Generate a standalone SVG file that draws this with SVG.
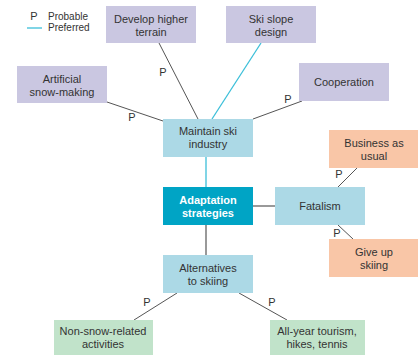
<svg xmlns="http://www.w3.org/2000/svg" width="418" height="355" viewBox="0 0 418 355">
<style>
text{font-family:"Liberation Sans",Arial,sans-serif;font-size:11px;fill:#333;text-anchor:middle}
.lav{fill:#cac7e1}.lb{fill:#acd9e6}.tl{fill:#00a4c5}.pe{fill:#f9c6a7}.gr{fill:#c1e3ca}
.ln{stroke:#555;stroke-width:1;fill:none}
.bl{stroke:#3cbfd9;stroke-width:1.3;fill:none}
.gy{stroke:#999;stroke-width:2;fill:none}
.lg{font-size:10px;text-anchor:start}
</style>
<rect width="418" height="355" fill="#fff"/>
<g id="legend">
<text x="34" y="20">P</text>
<text x="48" y="19.5" class="lg">Probable</text>
<text x="48" y="30.5" class="lg">Preferred</text>
<line x1="27" y1="28" x2="42" y2="28" class="bl"/>
</g>
<g id="connectors">
<line x1="159" y1="43" x2="198" y2="119" class="ln"/>
<line x1="261" y1="43" x2="212" y2="119" class="bl"/>
<line x1="107" y1="102" x2="163" y2="121" class="ln"/>
<line x1="302" y1="101" x2="253" y2="119" class="ln"/>
<line x1="206" y1="157" x2="206" y2="187" class="bl"/>
<line x1="253" y1="206" x2="275" y2="206" style="stroke:#777;stroke-width:1.5"/>
<line x1="206" y1="225" x2="206" y2="255" class="gy"/>
<line x1="338" y1="187" x2="357" y2="168" class="ln"/>
<line x1="338" y1="225" x2="353" y2="239" class="ln"/>
<line x1="177" y1="293" x2="134" y2="320" class="ln"/>
<line x1="239" y1="293" x2="287" y2="320" class="ln"/>
<text x="163" y="76">P</text>
<text x="132" y="121">P</text>
<text x="288" y="103">P</text>
<text x="339" y="178">P</text>
<text x="337" y="237">P</text>
<text x="147" y="306">P</text>
<text x="272" y="306">P</text>
</g>
<g id="develop"><rect x="106" y="6" width="90" height="37" class="lav"/><text x="151" y="23">Develop higher</text><text x="151" y="36">terrain</text></g>
<g id="skislope"><rect x="226" y="6" width="90" height="37" class="lav"/><text x="271" y="23">Ski slope</text><text x="271" y="36">design</text></g>
<g id="artificial"><rect x="17" y="66" width="90" height="37" class="lav"/><text x="62" y="83">Artificial</text><text x="62" y="96">snow-making</text></g>
<g id="cooperation"><rect x="299" y="63" width="90" height="38" class="lav"/><text x="344" y="86">Cooperation</text></g>
<g id="maintain"><rect x="163" y="119" width="90" height="38" class="lb"/><text x="208" y="135">Maintain ski</text><text x="208" y="148">industry</text></g>
<g id="adaptation"><rect x="163" y="187" width="90" height="38" class="tl"/><text x="208" y="204" style="fill:#fff;font-weight:bold">Adaptation</text><text x="208" y="217" style="fill:#fff;font-weight:bold">strategies</text></g>
<g id="fatalism"><rect x="275" y="187" width="90" height="38" class="lb"/><text x="320" y="210">Fatalism</text></g>
<g id="business"><rect x="329" y="130" width="90" height="38" class="pe"/><text x="374" y="147">Business as</text><text x="374" y="160">usual</text></g>
<g id="giveup"><rect x="329" y="239" width="90" height="38" class="pe"/><text x="374" y="256">Give up</text><text x="374" y="269">skiing</text></g>
<g id="alternatives"><rect x="163" y="255" width="90" height="38" class="lb"/><text x="208" y="272">Alternatives</text><text x="208" y="285">to skiing</text></g>
<g id="nonsnow"><rect x="54" y="320" width="99" height="36" class="gr"/><text x="103" y="335">Non-snow-related</text><text x="103" y="348">activities</text></g>
<g id="allyear"><rect x="270" y="320" width="95" height="36" class="gr"/><text x="317" y="335">All-year tourism,</text><text x="317" y="348">hikes, tennis</text></g>
</svg>
